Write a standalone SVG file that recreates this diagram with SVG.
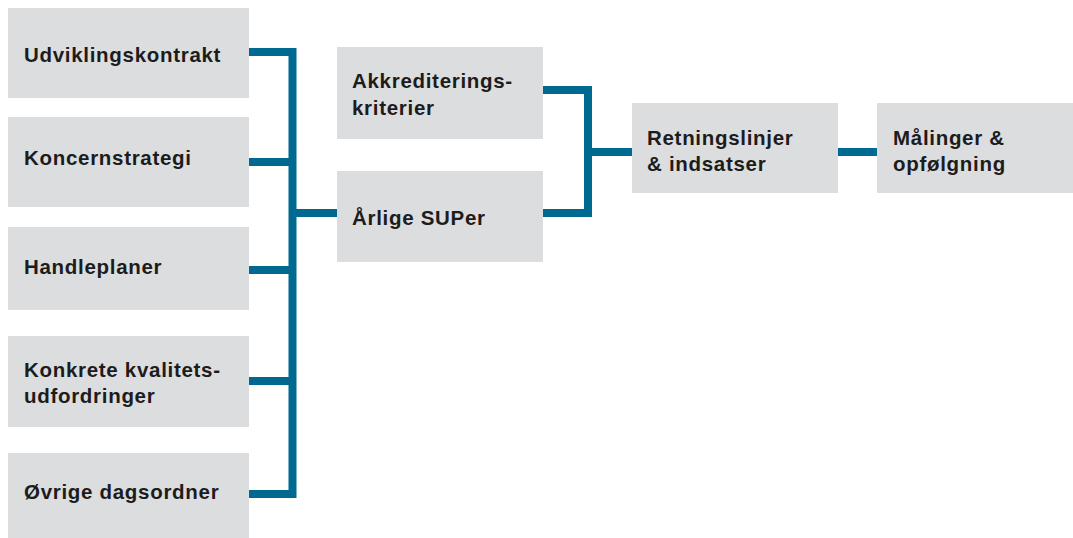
<svg xmlns="http://www.w3.org/2000/svg" width="1073" height="538" viewBox="0 0 1073 538">
<style>
.box{fill:#dcddde}
.lbl{font-family:"Liberation Sans",Arial,sans-serif;font-weight:bold;font-size:20.5px;fill:#1c1c1c;letter-spacing:0.7px}
.wire{fill:none;stroke:#006990;stroke-width:8;stroke-linejoin:miter;stroke-linecap:butt}
</style>
<rect width="1073" height="538" fill="#ffffff"/>
<g id="connectors">
<path class="wire" d="M249 52 H292.5 V494 H249"/>
<path class="wire" d="M249 162 H292.5 M249 270 H292.5 M249 381 H292.5 M292.5 213 H337"/>
<path class="wire" d="M543 90 H588 V213 H543 M588 152 H632"/>
<path class="wire" d="M838 152 H877"/>
</g>
<g id="n-udvikling"><rect class="box" x="8" y="8" width="241" height="90"/><text class="lbl" x="24" y="62">Udviklingskontrakt</text></g>
<g id="n-koncern"><rect class="box" x="8" y="117" width="241" height="90"/><text class="lbl" x="24" y="165">Koncernstrategi</text></g>
<g id="n-handle"><rect class="box" x="8" y="227" width="241" height="83"/><text class="lbl" x="24" y="274">Handleplaner</text></g>
<g id="n-konkrete"><rect class="box" x="8" y="336" width="241" height="91"/><text class="lbl" x="24" y="377">Konkrete kvalitets-</text><text class="lbl" x="24" y="403">udfordringer</text></g>
<g id="n-ovrige"><rect class="box" x="8" y="453" width="241" height="85"/><text class="lbl" x="24" y="499">Øvrige dagsordner</text></g>
<g id="n-akkred"><rect class="box" x="337" y="47" width="206" height="92"/><text class="lbl" x="352" y="88">Akkrediterings-</text><text class="lbl" x="352" y="115">kriterier</text></g>
<g id="n-super"><rect class="box" x="337" y="171" width="206" height="91"/><text class="lbl" x="352" y="225">Årlige SUPer</text></g>
<g id="n-retning"><rect class="box" x="632" y="103" width="206" height="90"/><text class="lbl" x="647" y="145">Retningslinjer</text><text class="lbl" x="647" y="171">&amp; indsatser</text></g>
<g id="n-maaling"><rect class="box" x="877" y="103" width="196" height="90"/><text class="lbl" x="893" y="145">Målinger &amp;</text><text class="lbl" x="893" y="171">opfølgning</text></g>
</svg>
